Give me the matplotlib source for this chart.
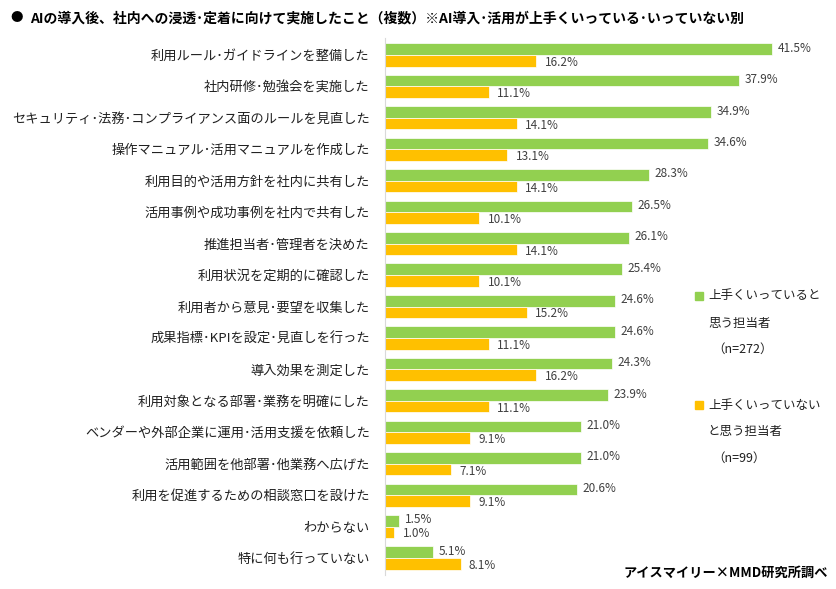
import matplotlib
matplotlib.use('Agg')
import matplotlib.pyplot as plt
import numpy as np

plt.rcParams['font.family'] = ['Noto Sans CJK JP', 'DejaVu Sans']

# 中黒は半角（･）で幅を詰める
categories = [
    '利用ルール･ガイドラインを整備した',
    '社内研修･勉強会を実施した',
    'セキュリティ･法務･コンプライアンス面のルールを見直した',
    '操作マニュアル･活用マニュアルを作成した',
    '利用目的や活用方針を社内に共有した',
    '活用事例や成功事例を社内で共有した',
    '推進担当者･管理者を決めた',
    '利用状況を定期的に確認した',
    '利用者から意見･要望を収集した',
    '成果指標･KPIを設定･見直しを行った',
    '導入効果を測定した',
    '利用対象となる部署･業務を明確にした',
    'ベンダーや外部企業に運用･活用支援を依頼した',
    '活用範囲を他部署･他業務へ広げた',
    '利用を促進するための相談窓口を設けた',
    'わからない',
    '特に何も行っていない',
]
good = [41.5, 37.9, 34.9, 34.6, 28.3, 26.5, 26.1, 25.4, 24.6, 24.6, 24.3, 23.9, 21.0, 21.0, 20.6, 1.5, 5.1]
notgood = [16.2, 11.1, 14.1, 13.1, 14.1, 10.1, 14.1, 10.1, 15.2, 11.1, 16.2, 11.1, 9.1, 7.1, 9.1, 1.0, 8.1]

GREEN = '#92D050'
ORANGE = '#FFC000'

fig = plt.figure(figsize=(8.37, 5.89), dpi=100)
ax = fig.add_axes([385 / 837, 1 - 575 / 589, 420 / 837, (575 - 38) / 589])

y = np.arange(len(categories))
h = 0.37
ax.barh(y - h / 2, good, height=h, color=GREEN, edgecolor='white', linewidth=0.5)
ax.barh(y + h / 2, notgood, height=h, color=ORANGE, edgecolor='white', linewidth=0.5)

for i in range(len(categories)):
    ax.text(good[i] + 0.6, y[i] - h / 2 - 0.03, f'{good[i]:.1f}%', va='center', ha='left',
            fontsize=8.5, color='#404040')
    ax.text(notgood[i] + 0.9, y[i] + h / 2 + 0.05, f'{notgood[i]:.1f}%', va='center', ha='left',
            fontsize=8.5, color='#404040')

ax.set_xlim(0, 45)
ax.set_ylim(16.54, -0.54)
ax.set_yticks(y)
ax.set_yticklabels(categories, fontsize=9.5, color='#202020')
ax.tick_params(axis='y', length=0, pad=11)
ax.set_xticks([])
for s in ['top', 'right', 'bottom']:
    ax.spines[s].set_visible(False)
ax.spines['left'].set_color('#D9D9D9')

# タイトル
fig.text(10 / 837, 1 - 18 / 589, '●', fontsize=9, va='center', ha='left', color='black')
fig.text(30 / 837, 1 - 18 / 589,
         'AIの導入後、社内への浸透･定着に向けて実施したこと（複数）※AI導入･活用が上手くいっている･いっていない別',
         fontsize=10, fontweight='bold', va='center', ha='left', color='black')

# 凡例
def legend_block(ytop, color, lines):
    fig.patches.append(matplotlib.patches.Rectangle(
        (695 / 837, 1 - (ytop + 4) / 589), 8 / 837, 8 / 589,
        transform=fig.transFigure, color=color))
    fig.text(708 / 837, 1 - ytop / 589, lines[0], fontsize=9, va='center', ha='left', color='#202020')
    fig.text(708 / 837, 1 - (ytop + 27) / 589, lines[1], fontsize=9, va='center', ha='left', color='#202020')
    fig.text(712 / 837, 1 - (ytop + 53) / 589, lines[2], fontsize=9, va='center', ha='left', color='#202020')

legend_block(296, GREEN, ['上手くいっていると', '思う担当者', '（n=272）'])
legend_block(405, ORANGE, ['上手くいっていない', 'と思う担当者', '（n=99）'])

fig.text(828 / 837, 1 - 573 / 589, 'アイスマイリー×MMD研究所調べ', fontsize=9.5, fontweight='bold',
         va='center', ha='right', color='black')

fig.savefig('out.png', dpi=100)
